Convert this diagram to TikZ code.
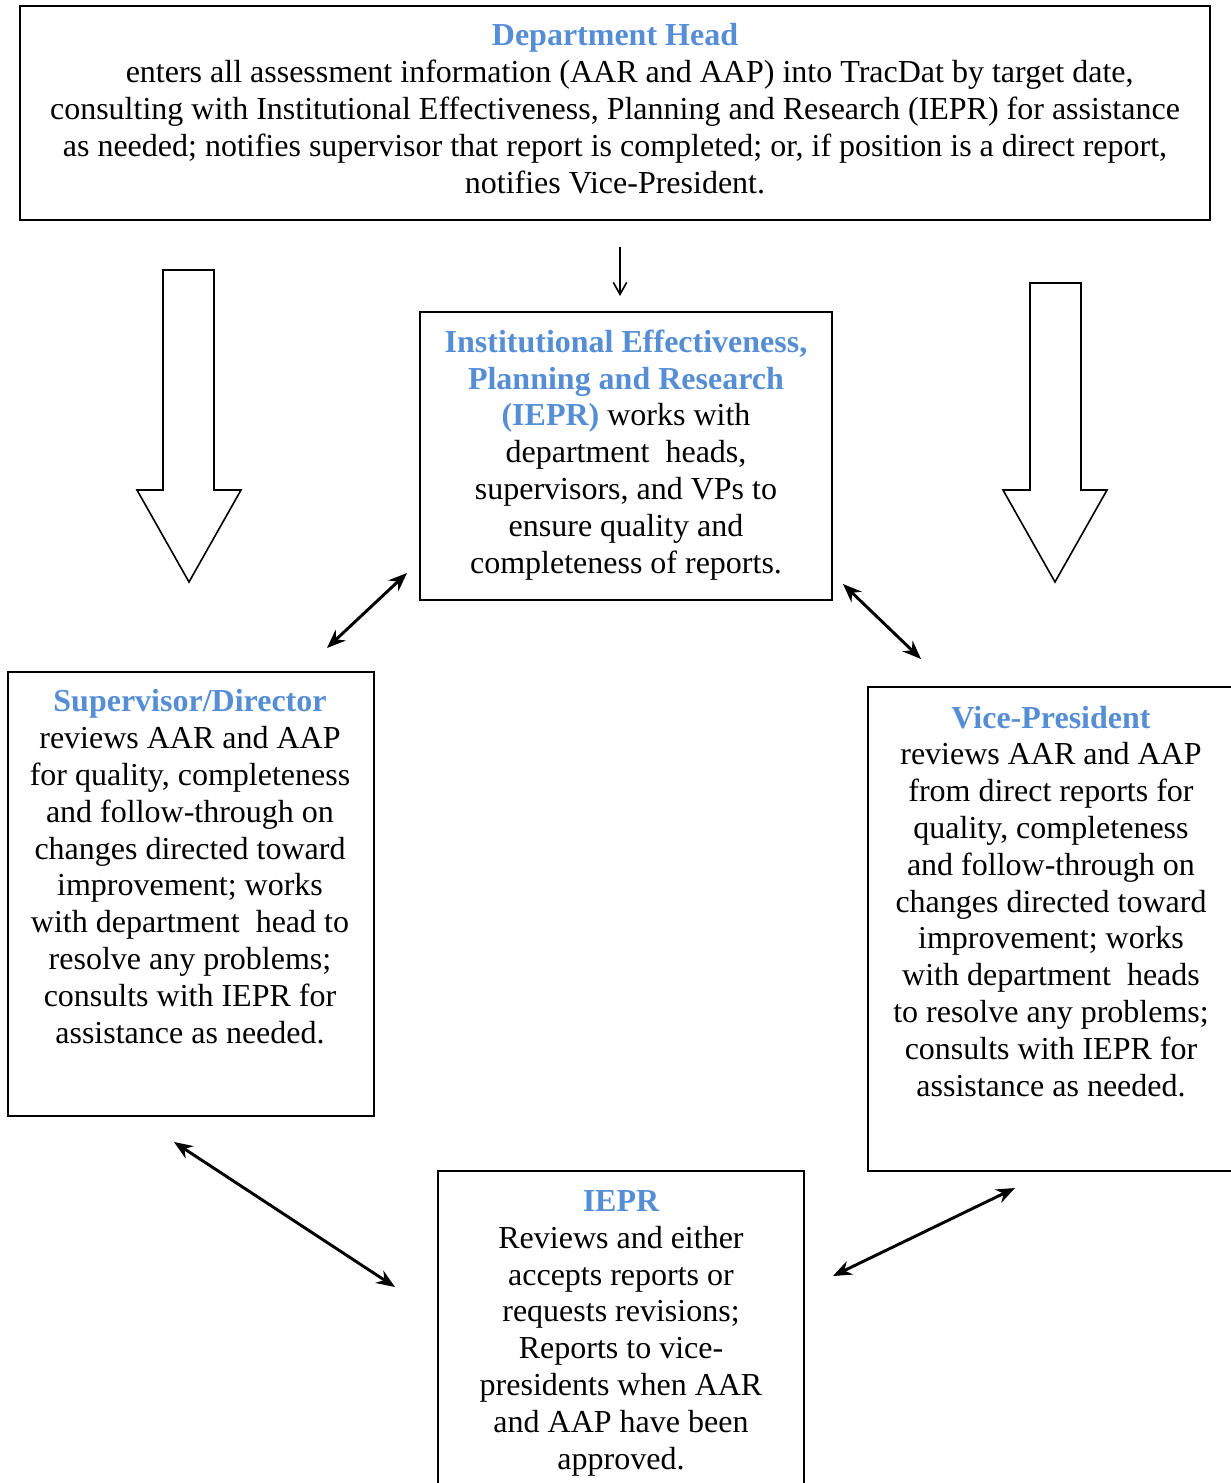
\documentclass[tikz,border=0pt]{standalone}
\usepackage{fontspec}
\setmainfont{Liberation Serif}
\usetikzlibrary{arrows.meta}
\definecolor{titleblue}{RGB}{85,142,213}
\newcommand\ttl[1]{\textbf{\textcolor{titleblue}{#1}}}
\tikzset{
  box/.style={draw, line width=0.8pt, inner sep=0pt},
  sz/.style 2 args={minimum width={#1*0.375pt}, minimum height={#2*0.375pt}},
  txt/.style={align=center, anchor=base, inner sep=0pt, font=\fontsize{12}{13.8}\selectfont},
  dbl/.style={line width=1.1pt, {Stealth[length=7pt,width=5.5pt]}-{Stealth[length=7pt,width=5.5pt]}},
  blockarrow/.style={draw, line width=0.6pt, fill=white, line join=miter},
  thin arrow/.style={line width=0.6pt, -{Straight Barb[length=4.5pt,width=5pt]}}
}
\begin{document}
\begin{tikzpicture}[x=0.375pt,y=-0.375pt]
\useasboundingbox (0,0) rectangle (1231,1483);

% boxes
\node[box, sz={1190}{214}] (head) at (615,113) {};
\node[box, sz={412}{288}] (iepr) at (626,456) {};
\node[box, sz={366}{444}] (sup) at (191,894) {};
\node[box, sz={372}{484}] (vp) at (1054,929) {};
\node[box, sz={366}{330}] (rev) at (621,1336) {};

% texts (anchor base = baseline of last line)
\node[txt] (headtxt) at (615,193) {\ttl{Department Head}\\
\hspace*{11pt}enters all assessment information (AAR and AAP) into TracDat by target date,\\
consulting with Institutional Effectiveness, Planning and Research (IEPR) for assistance\\
as needed; notifies supervisor that report is completed; or, if position is a direct report,\\
notifies Vice-President.};

\node[txt] (ieprtxt) at (626,573) {\ttl{Institutional Effectiveness,}\\
\ttl{Planning and Research}\\
\ttl{(IEPR)} works with\\
department\ \ heads,\\
supervisors, and VPs to\\
ensure quality and\\
completeness of reports.};

\node[txt] (suptxt) at (190,1043) {\ttl{Supervisor/Director}\\
reviews AAR and AAP\\
for quality, completeness\\
and follow-through on\\
changes directed toward\\
improvement; works\\
with department\ \ head to\\
resolve any problems;\\
consults with IEPR for\\
assistance as needed.};

\node[txt] (vptxt) at (1051,1096) {\ttl{Vice-President}\\
reviews AAR and AAP\\
from direct reports for\\
quality, completeness\\
and follow-through on\\
changes directed toward\\
improvement; works\\
with department\ \ heads\\
to resolve any problems;\\
consults with IEPR for\\
assistance as needed.};

\node[txt] (revtxt) at (621,1469) {\ttl{IEPR}\\
Reviews and either\\
accepts reports or\\
requests revisions;\\
Reports to vice-\\
presidents when AAR\\
and AAP have been\\
approved.};

% block arrows
\draw[blockarrow] (163,270) -- (214,270) -- (214,490) -- (241,490) -- (189,582) -- (137,490) -- (163,490) -- cycle;
\draw[blockarrow] (1030,283) -- (1081,283) -- (1081,490) -- (1107,490) -- (1055,582) -- (1003,490) -- (1030,490) -- cycle;

% small arrow
\coordinate (s1) at (620,247);
\coordinate (s2) at (620,296);
\draw[thin arrow] (s1) -- (s2);

% double arrows
\coordinate (a1) at (407,573);
\coordinate (a2) at (327,648);
\coordinate (b1) at (843,584);
\coordinate (b2) at (921,659);
\coordinate (c1) at (174,1142);
\coordinate (c2) at (395,1287);
\coordinate (d1) at (1015,1188);
\coordinate (d2) at (833,1276);
\draw[dbl] (a1) -- (a2);
\draw[dbl] (b1) -- (b2);
\draw[dbl] (c1) -- (c2);
\draw[dbl] (d1) -- (d2);
\end{tikzpicture}
\end{document}
